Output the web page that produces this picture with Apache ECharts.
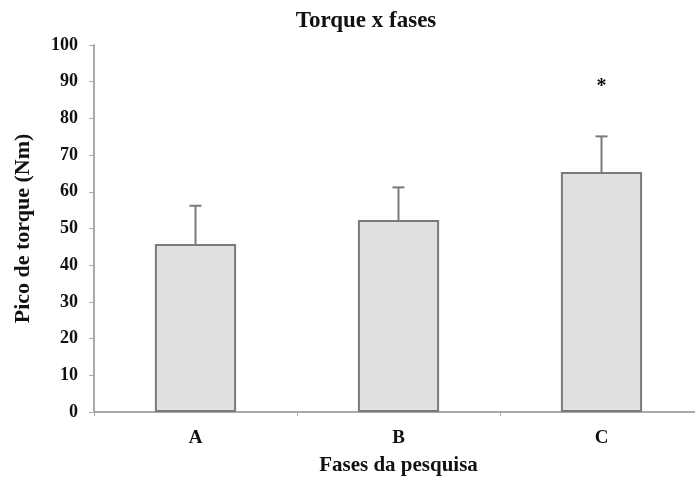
<!DOCTYPE html>
<html>
<head>
<meta charset="utf-8">
<script src="https://cdn.jsdelivr.net/npm/echarts@6/dist/echarts.min.js"></script>
<style>html,body{margin:0;padding:0;background:#fff}#c{width:695px;height:479px}</style>
</head>
<body>
<div id="c"></div>
<script>
var categories = ['A', 'B', 'C'];
var means = [45.8, 52.3, 65.4];
var errorTops = [56.2, 61.2, 75.1];
var asterisk = [null, null, 90];
var yTicks = [0, 10, 20, 30, 40, 50, 60, 70, 80, 90, 100];

var FONT = '"Liberation Serif", "Times New Roman", serif';
var AX = '#a9a9a9';
var chart = echarts.init(document.getElementById('c'), null, {renderer: 'canvas'});

chart.setOption({
  animation: false,
  backgroundColor: '#ffffff',
  title: {
    text: 'Torque x fases',
    left: 361, top: 5, textAlign: 'center',
    textStyle: {fontFamily: FONT, fontWeight: 'bold', fontSize: 23, color: '#111'}
  },
  grid: {left: 94, width: 609, top: 45, bottom: 67, containLabel: false, outerBoundsMode: 'none'},
  xAxis: {
    type: 'category',
    data: categories,
    name: 'Fases da pesquisa',
    nameLocation: 'middle',
    nameGap: 43,
    nameTextStyle: {fontFamily: FONT, fontWeight: 'bold', fontSize: 21, color: '#111'},
    axisLine: {lineStyle: {color: AX, width: 2}},
    axisTick: {show: true, length: 4, lineStyle: {color: AX}},
    axisLabel: {fontFamily: FONT, fontWeight: 'bold', fontSize: 19, color: '#111', margin: 17}
  },
  yAxis: {
    type: 'value',
    min: yTicks[0], max: yTicks[yTicks.length - 1], interval: 10,
    name: 'Pico de torque (Nm)',
    nameLocation: 'middle',
    nameGap: 60,
    nameTextStyle: {fontFamily: FONT, fontWeight: 'bold', fontSize: 22, color: '#111'},
    axisLine: {show: true, lineStyle: {color: AX, width: 2}},
    axisTick: {show: true, length: 5, lineStyle: {color: AX}},
    splitLine: {show: false},
    axisLabel: {fontFamily: FONT, fontWeight: 'bold', fontSize: 18, color: '#111', margin: 16}
  },
  series: [
    {
      type: 'bar',
      data: means,
      barWidth: '40%',
      itemStyle: {color: '#e0e0e0', borderColor: '#7a7a7a', borderWidth: 2},
      z: 2
    },
    {
      type: 'custom',
      data: categories.map(function (c, i) { return [i, means[i], errorTops[i]]; }),
      renderItem: function (params, api) {
        var base = api.coord([api.value(0), api.value(1)]);
        var top = api.coord([api.value(0), api.value(2)]);
        var hw = 6;
        return {
          type: 'group',
          children: [
            {type: 'line', shape: {x1: base[0], y1: base[1], x2: top[0], y2: top[1]},
             style: {stroke: '#7a7a7a', lineWidth: 2}},
            {type: 'line', shape: {x1: top[0] - hw, y1: top[1], x2: top[0] + hw, y2: top[1]},
             style: {stroke: '#7a7a7a', lineWidth: 2}}
          ]
        };
      },
      z: 3
    },
    {
      type: 'custom',
      data: categories.map(function (c, i) { return [i, asterisk[i]]; }).filter(function (d) { return d[1] != null; }),
      renderItem: function (params, api) {
        var p = api.coord([api.value(0), api.value(1)]);
        return {
          type: 'text',
          x: p[0], y: p[1] + 5,
          style: {
            text: '*', align: 'center', verticalAlign: 'middle',
            font: 'bold 20px ' + FONT, fill: '#111'
          }
        };
      },
      z: 4
    }
  ]
});
</script>
</body>
</html>
